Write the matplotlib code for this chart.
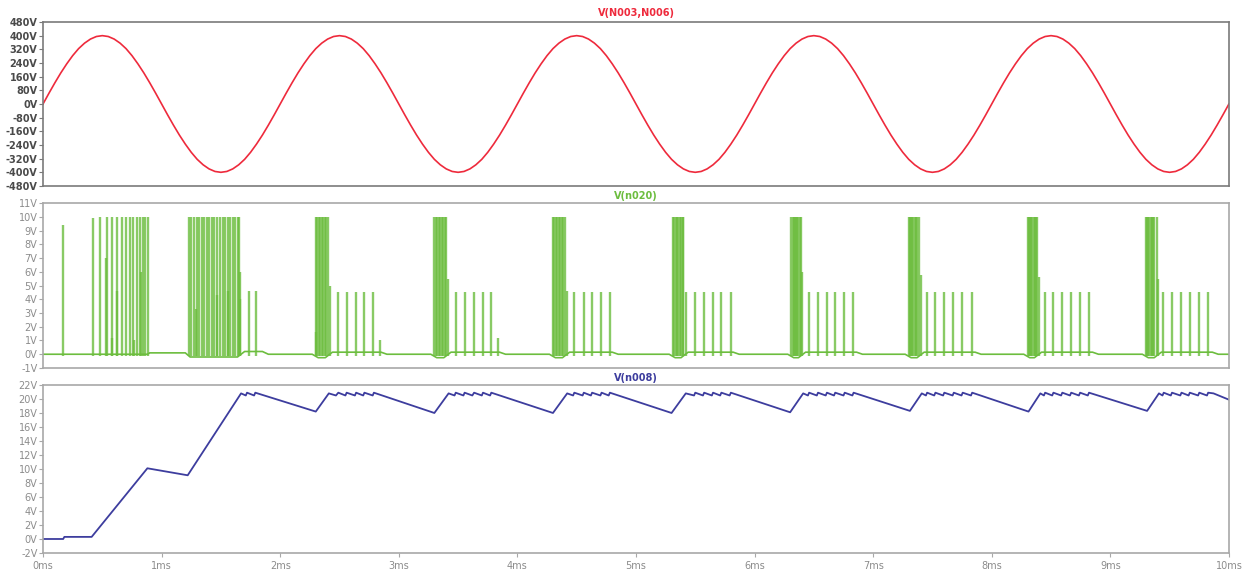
import numpy as np
import matplotlib.pyplot as plt

# ---- V(N003,N006): one cycle read at 0.05 ms steps, 5 identical cycles shown
sine_cycle_v = [0, 63, 124, 182, 235, 283, 324, 356, 380, 395,
                400, 395, 380, 356, 324, 283, 235, 182, 124, 63,
                0, -63, -124, -182, -235, -283, -324, -356, -380, -395,
                -400, -395, -380, -356, -324, -283, -235, -182, -124, -63]
sine_cycles = 5
sine_step_ms = 0.05

# ---- V(n020): spike peaks (time ms, volts)
n020_spike_t = [
    0.17,
    0.419, 0.48, 0.53, 0.54, 0.58, 0.58, 0.62, 0.62, 0.663, 0.70, 0.733, 0.76, 0.765,
    0.79, 0.82, 0.823, 0.84, 0.86, 0.882,
    1.23, 1.247, 1.275, 1.29, 1.297, 1.317, 1.337, 1.359, 1.38, 1.401, 1.421, 1.443,
    1.465, 1.466, 1.491, 1.514, 1.536, 1.556, 1.56, 1.578, 1.598, 1.617, 1.64, 1.654,
    1.657, 1.662, 1.733, 1.80,
    2.30, 2.302, 2.312, 2.325, 2.337, 2.35, 2.362, 2.375, 2.387, 2.40, 2.42,
    2.488, 2.561, 2.637, 2.707, 2.783, 2.839,
    3.30, 3.312, 3.325, 3.337, 3.35, 3.362, 3.375, 3.387, 3.40, 3.415,
    3.479, 3.555, 3.633, 3.707, 3.78, 3.838,
    4.30, 4.312, 4.325, 4.337, 4.35, 4.362, 4.375, 4.387, 4.40, 4.42,
    4.48, 4.56, 4.63, 4.707, 4.78,
    5.31, 5.322, 5.334, 5.346, 5.358, 5.37, 5.382, 5.394, 5.40, 5.42,
    5.50, 5.575, 5.647, 5.72, 5.80,
    6.31, 6.32, 6.33, 6.34, 6.35, 6.36, 6.37, 6.38, 6.39, 6.40,
    6.456, 6.535, 6.608, 6.681, 6.757, 6.833,
    7.30, 7.31, 7.32, 7.33, 7.34, 7.35, 7.36, 7.37, 7.385, 7.40,
    7.453, 7.523, 7.599, 7.677, 7.753, 7.832,
    8.303, 8.313, 8.323, 8.333, 8.343, 8.353, 8.363, 8.373, 8.382, 8.40,
    8.45, 8.52, 8.593, 8.669, 8.745, 8.82,
    9.30, 9.31, 9.32, 9.33, 9.34, 9.35, 9.36, 9.37, 9.39, 9.40,
    9.447, 9.52, 9.60, 9.67, 9.75, 9.823,
]
n020_spike_v = [
    9.4,
    9.9, 10.0, 7.0, 10.0, 1.2, 10.0, 4.6, 10.0, 10.0, 10.0, 10.0, 10.0, 1.0,
    10.0, 10.0, 6.0, 10.0, 10.0, 10.0,
    10.0, 10.0, 10.0, 3.3, 10.0, 10.0, 10.0, 10.0, 10.0, 10.0, 10.0, 10.0,
    4.3, 10.0, 10.0, 10.0, 10.0, 10.0, 4.6, 10.0, 10.0, 10.0, 10.0, 10.0,
    6.0, 4.0, 4.6, 4.6,
    10.0, 1.6, 10.0, 10.0, 10.0, 10.0, 10.0, 10.0, 10.0, 10.0, 5.0,
    4.5, 4.5, 4.5, 4.5, 4.5, 1.0,
    10.0, 10.0, 10.0, 10.0, 10.0, 10.0, 10.0, 10.0, 10.0, 5.5,
    4.5, 4.5, 4.5, 4.5, 4.5, 1.2,
    10.0, 10.0, 10.0, 10.0, 10.0, 10.0, 10.0, 10.0, 10.0, 4.6,
    4.5, 4.5, 4.5, 4.5, 4.5,
    10.0, 10.0, 10.0, 10.0, 10.0, 10.0, 10.0, 10.0, 10.0, 4.5,
    4.5, 4.5, 4.5, 4.5, 4.5,
    10.0, 10.0, 10.0, 10.0, 10.0, 10.0, 10.0, 10.0, 10.0, 6.0,
    4.5, 4.5, 4.5, 4.5, 4.5, 4.5,
    10.0, 10.0, 10.0, 10.0, 10.0, 10.0, 10.0, 10.0, 10.0, 5.8,
    4.5, 4.5, 4.5, 4.5, 4.5, 4.5,
    10.0, 10.0, 10.0, 10.0, 10.0, 10.0, 10.0, 10.0, 10.0, 5.6,
    4.5, 4.5, 4.5, 4.5, 4.5, 4.5,
    10.0, 10.0, 10.0, 10.0, 10.0, 10.0, 10.0, 10.0, 10.0, 5.5,
    4.5, 4.5, 4.5, 4.5, 4.5, 4.5,
]

# ---- V(n020): baseline between spikes
n020_base_t = [0.0, 0.88, 0.90, 1.20, 1.24, 1.64, 1.70, 1.85, 1.90,
               2.27, 2.32, 2.38, 2.44, 2.85, 2.90,
               3.27, 3.32, 3.38, 3.44, 3.85, 3.90,
               4.27, 4.32, 4.38, 4.44, 4.80, 4.85,
               5.28, 5.33, 5.38, 5.44, 5.82, 5.87,
               6.28, 6.33, 6.37, 6.43, 6.86, 6.91,
               7.27, 7.32, 7.37, 7.43, 7.86, 7.91,
               8.27, 8.32, 8.36, 8.42, 8.85, 8.90,
               9.27, 9.32, 9.37, 9.43, 9.86, 9.91, 10.0]
n020_base_v = [0.0, 0.0, 0.1, 0.1, -0.2, -0.2, 0.2, 0.2, 0.0,
               0.0, -0.25, -0.25, 0.15, 0.15, 0.0,
               0.0, -0.25, -0.25, 0.15, 0.15, 0.0,
               0.0, -0.25, -0.25, 0.15, 0.15, 0.0,
               0.0, -0.25, -0.25, 0.15, 0.15, 0.0,
               0.0, -0.25, -0.25, 0.15, 0.15, 0.0,
               0.0, -0.25, -0.25, 0.15, 0.15, 0.0,
               0.0, -0.25, -0.25, 0.15, 0.15, 0.0,
               0.0, -0.25, -0.25, 0.15, 0.15, 0.0, 0.0]

# ---- V(n008)
n008_t = [0.0, 0.17, 0.18, 0.41, 0.88, 1.22, 1.67,
          1.71, 1.72, 1.78, 1.79,
          2.30, 2.41, 2.47, 2.49, 2.55, 2.56, 2.63, 2.64, 2.70, 2.71, 2.78, 2.79,
          3.30, 3.42, 3.47, 3.48, 3.545, 3.555, 3.62, 3.635, 3.70, 3.71, 3.77, 3.78,
          4.30, 4.42, 4.47, 4.48, 4.55, 4.56, 4.62, 4.63, 4.70, 4.71, 4.77, 4.78,
          5.30, 5.42, 5.49, 5.50, 5.565, 5.575, 5.64, 5.65, 5.71, 5.72, 5.79, 5.80,
          6.30, 6.41, 6.45, 6.46, 6.525, 6.535, 6.60, 6.61, 6.67, 6.68, 6.75, 6.76, 6.825, 6.835,
          7.31, 7.41, 7.445, 7.455, 7.515, 7.525, 7.59, 7.60, 7.67, 7.68, 7.745, 7.755, 7.825, 7.835,
          8.31, 8.41, 8.44, 8.45, 8.51, 8.52, 8.585, 8.595, 8.66, 8.67, 8.735, 8.745, 8.81, 8.82,
          9.31, 9.41, 9.44, 9.45, 9.51, 9.52, 9.59, 9.60, 9.66, 9.67, 9.74, 9.75, 9.815, 9.825,
          9.87, 10.0]
n008_v = [0.0, 0.0, 0.3, 0.3, 10.1, 9.1, 20.8,
          20.5, 20.9, 20.5, 20.9,
          18.2, 20.8, 20.5, 20.9, 20.5, 20.9, 20.5, 20.9, 20.5, 20.9, 20.5, 20.9,
          18.0, 20.8, 20.5, 20.9, 20.5, 20.9, 20.5, 20.9, 20.5, 20.9, 20.5, 20.9,
          18.0, 20.8, 20.5, 20.9, 20.5, 20.9, 20.5, 20.9, 20.5, 20.9, 20.5, 20.9,
          18.0, 20.8, 20.5, 20.9, 20.5, 20.9, 20.5, 20.9, 20.5, 20.9, 20.5, 20.9,
          18.1, 20.8, 20.5, 20.9, 20.5, 20.9, 20.5, 20.9, 20.5, 20.9, 20.5, 20.9, 20.5, 20.9,
          18.3, 20.8, 20.5, 20.9, 20.5, 20.9, 20.5, 20.9, 20.5, 20.9, 20.5, 20.9, 20.5, 20.9,
          18.2, 20.8, 20.5, 20.9, 20.5, 20.9, 20.5, 20.9, 20.5, 20.9, 20.5, 20.9, 20.5, 20.9,
          18.3, 20.8, 20.5, 20.9, 20.5, 20.9, 20.5, 20.9, 20.5, 20.9, 20.5, 20.9, 20.5, 20.9,
          20.8, 19.9]

x_ticks = [0, 1, 2, 3, 4, 5, 6, 7, 8, 9, 10]
x_labels = ["0ms", "1ms", "2ms", "3ms", "4ms", "5ms", "6ms", "7ms", "8ms", "9ms", "10ms"]
top_yticks = list(range(-480, 481, 80))
mid_yticks = list(range(-1, 12))
bot_yticks = list(range(-2, 23, 2))

RED = '#ee2a3c'
GREEN = '#6cbd3e'
BLUE = '#3d3d9e'
TICK_GREY = '#8c8c8c'


def style_axis(ax, yticks, ylim, spine_col, lab_col, weight='normal'):
    ax.set_xlim(0, 10)
    ax.set_ylim(*ylim)
    ax.set_yticks(yticks)
    ax.set_yticklabels([f"{v}V" for v in yticks], fontsize=7, color=lab_col,
                       fontweight=weight)
    ax.tick_params(axis='y', length=3, width=0.8, color=spine_col, pad=1)
    for s in ax.spines.values():
        s.set_color(spine_col)
        s.set_linewidth(1.2)


fig = plt.figure(figsize=(12.47, 5.74), dpi=100)
ax1 = fig.add_axes([0.0345, 0.676, 0.951, 0.2857])
ax2 = fig.add_axes([0.0345, 0.3589, 0.951, 0.2874])
ax3 = fig.add_axes([0.0345, 0.0366, 0.951, 0.2927])

# top: sine
sine_v = np.concatenate([np.tile(sine_cycle_v, sine_cycles), [sine_cycle_v[0]]])
sine_t = np.arange(len(sine_v)) * sine_step_ms
ax1.plot(sine_t, sine_v, color=RED, lw=1.2)
style_axis(ax1, top_yticks, (-480, 480), '#7a7a7a', '#4a4a4a', 'bold')
ax1.set_xticks([])
ax1.set_title("V(N003,N006)", color=RED, fontsize=7, fontweight='bold', pad=4)

# middle: spikes
ax2.plot(n020_base_t, n020_base_v, color=GREEN, lw=1.2)
ax2.vlines(n020_spike_t, -0.15, n020_spike_v, color=GREEN, lw=1.7, alpha=0.8)
style_axis(ax2, mid_yticks, (-1, 11), '#a8a8a8', TICK_GREY)
ax2.set_xticks([])
ax2.set_title("V(n020)", color=GREEN, fontsize=7, fontweight='bold', pad=3)

# bottom: rectified supply
ax3.plot(n008_t, n008_v, color=BLUE, lw=1.3)
style_axis(ax3, bot_yticks, (-2, 22), '#a8a8a8', TICK_GREY)
ax3.set_xticks(x_ticks)
ax3.set_xticklabels(x_labels, fontsize=7, color=TICK_GREY)
ax3.tick_params(axis='x', length=3, width=0.8, color='#a8a8a8', pad=3)
ax3.set_title("V(n008)", color=BLUE, fontsize=7, fontweight='bold', pad=3)

fig.savefig("out.png", dpi=100, facecolor='white')
